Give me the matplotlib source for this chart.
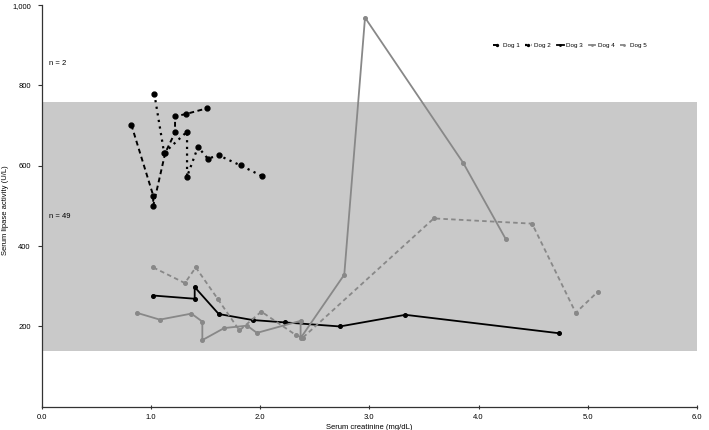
import matplotlib.pyplot as plt

plt.rcParams["font.family"] = ["Liberation Sans", "DejaVu Sans"]

# reference interval (U/L)
ref_low, ref_high = 140, 760

# Dog 1 (black dashed, upper cluster)
dog1_x = [0.82, 1.02, 1.02, 1.13, 1.22, 1.22, 1.32, 1.51]
dog1_y = [702, 526, 500, 632, 683, 723, 729, 743]

# Dog 2 (black dotted, upper cluster)
dog2_x = [1.03, 1.12, 1.33, 1.33, 1.43, 1.52, 1.62, 1.82, 2.02]
dog2_y = [780, 632, 685, 573, 647, 618, 626, 601, 574]

# Dog 3 (black solid)
dog3_x = [1.02, 1.40, 1.40, 1.62, 1.93, 2.23, 2.73, 3.33, 4.74]
dog3_y = [277, 269, 298, 231, 216, 210, 200, 229, 183]

# Dog 4 (grey solid)
dog4_x = [0.87, 1.08, 1.37, 1.47, 1.47, 1.67, 1.88, 1.97, 2.37, 2.37, 2.77, 2.96, 3.86, 4.25]
dog4_y = [234, 217, 232, 212, 166, 196, 202, 184, 214, 171, 329, 969, 607, 417]

# Dog 5 (grey dashed)
dog5_x = [1.02, 1.31, 1.41, 1.61, 1.81, 2.01, 2.33, 2.39, 3.59, 4.49, 4.89, 5.09]
dog5_y = [347, 308, 347, 269, 190, 237, 178, 172, 469, 456, 234, 286]

fig = plt.figure(figsize=(7.09, 4.30), dpi=100)
ax = fig.add_axes([0.059, 0.054, 0.924, 0.934])

ax.axhspan(ref_low, ref_high, color="#c9c9c9", lw=0, zorder=0)

ax.plot(dog1_x, dog1_y, ls=(0, (2.5, 1.8)), color="black", lw=1.4, marker="o", ms=3.5, label="Dog 1")
ax.plot(dog2_x, dog2_y, ls=(0, (1, 2)), color="black", lw=1.6, marker="o", ms=3.5, label="Dog 2")
ax.plot(dog3_x, dog3_y, ls="-", color="black", lw=1.3, marker="o", ms=2.6, label="Dog 3")
ax.plot(dog4_x, dog4_y, ls="-", color="#888888", lw=1.3, marker="o", ms=2.6, label="Dog 4")
ax.plot(dog5_x, dog5_y, ls=(0, (2.5, 1.8)), color="#888888", lw=1.3, marker="o", ms=2.6, label="Dog 5")

ax.set_xlim(0, 6)
ax.set_ylim(0, 1000)
ax.set_xticks([0, 1, 2, 3, 4, 5, 6])
ax.set_xticklabels(["0.0", "1.0", "2.0", "3.0", "4.0", "5.0", "6.0"])
ax.set_yticks([200, 400, 600, 800, 1000])
ax.set_yticklabels(["200", "400", "600", "800", "1,000"])
ax.tick_params(axis="both", labelsize=5.5, length=3, width=0.8, color="#333333")
ax.tick_params(axis="x", direction="inout", pad=4)
ax.tick_params(axis="y", pad=5)

for side in ["top", "right"]:
    ax.spines[side].set_visible(False)
for side in ["left", "bottom"]:
    ax.spines[side].set_color("#333333")
    ax.spines[side].set_linewidth(0.9)

ax.set_xlabel("Serum creatinine (mg/dL)", fontsize=5.5, labelpad=2)
ax.set_ylabel("Serum lipase activity (U/L)", fontsize=5.5, labelpad=3)
ax.yaxis.set_label_coords(-0.05, 0.49)

ax.text(0.07, 855, "n = 2", fontsize=5.5, va="center")
ax.text(0.07, 475, "n = 49", fontsize=5.5, va="center")

ax.legend(loc="center", bbox_to_anchor=(0.806, 0.9), ncol=5, frameon=False,
          fontsize=4.5, handlelength=1.1, handletextpad=0.4, columnspacing=0.9,
          markerscale=0.4)

fig.savefig("out.png", dpi=100)
